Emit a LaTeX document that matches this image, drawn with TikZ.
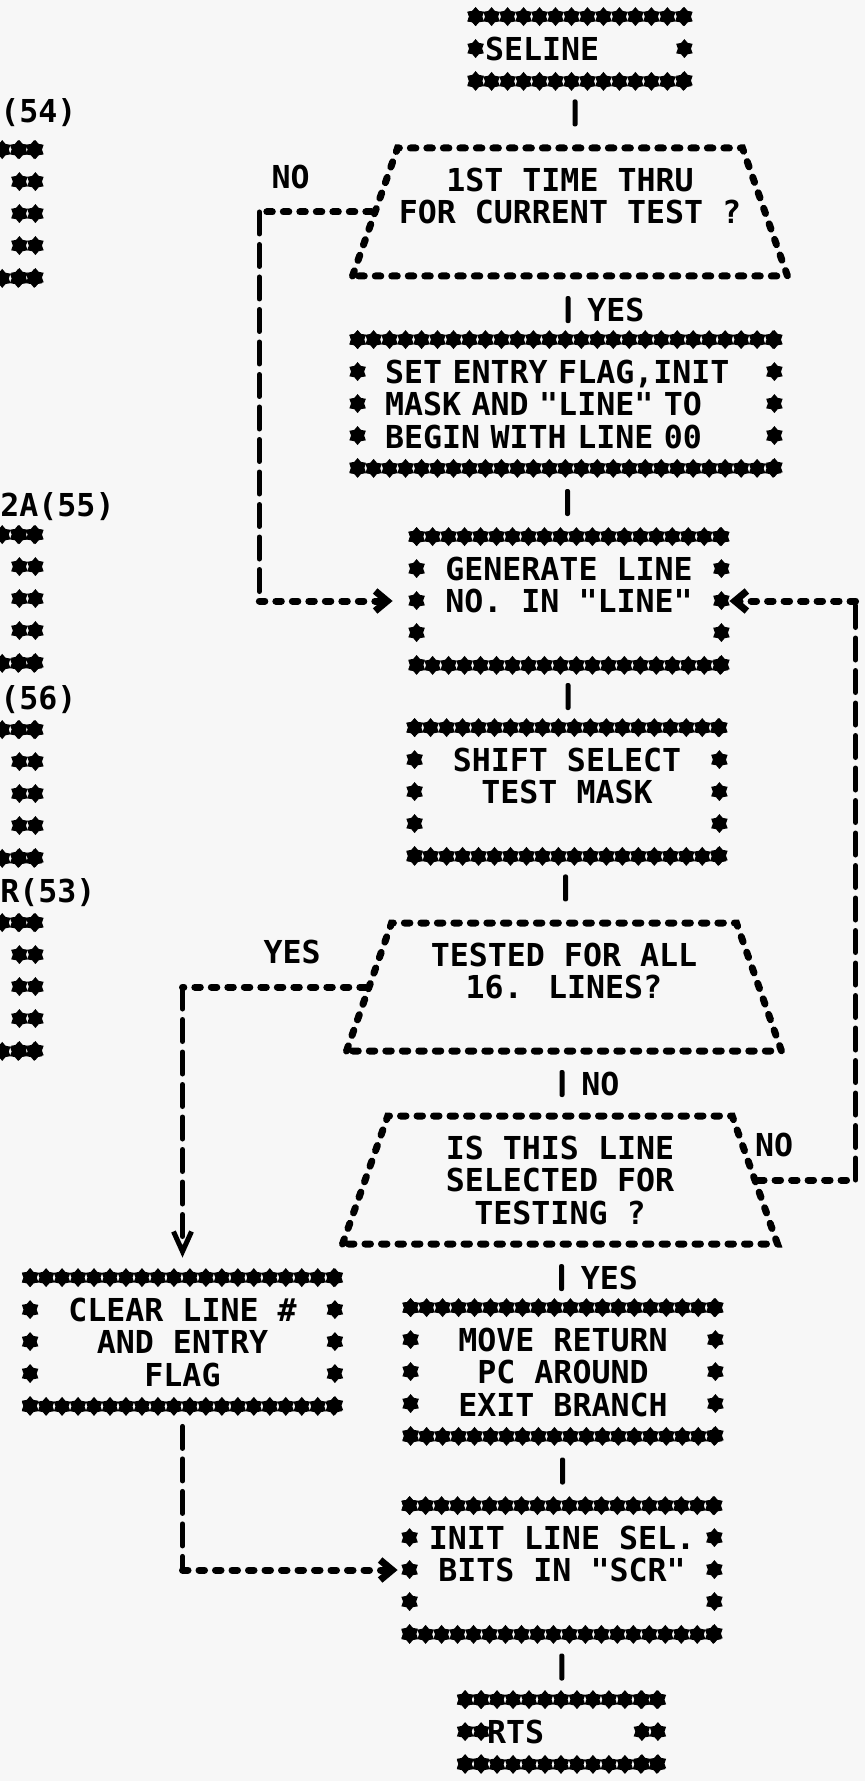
\documentclass[tikz,border=0pt]{standalone}
\usepackage{fontspec}
\setmainfont{DejaVu Sans Mono}[Ligatures=TeXOff]
\usetikzlibrary{shapes.geometric, decorations.markings, arrows.meta}

\tikzset{
  lbl/.style={font=\bfseries\fontsize{15.8}{16.25}\selectfont, inner sep=2pt},
  box/.style={lbl, inner sep=0pt, minimum width=152pt, minimum height=64pt, align=center},
  ifbox/.style={lbl, trapezium, trapezium left angle=63, trapezium right angle=63,
    trapezium stretches body, draw, dline, inner sep=0pt,
    minimum width=217.5pt, minimum height=64pt, align=center},
  starblob/.style={star, star points=6, star point ratio=1.45, fill, inner sep=0pt, minimum size=9.5pt},
  hstars/.style={decoration={markings, mark=between positions 0 and 1 step 7.99pt with {\node[starblob] {};}}, decorate},
  vstars/.style={decoration={markings, mark=between positions 0 and 1 step 15.99pt with {\node[starblob] {};}}, decorate},
  dline/.style={line width=3.5pt, line cap=round, dash pattern=on 2.75pt off 5.5pt},
  iline/.style={line width=2.5pt, line cap=round, dash pattern=on 11pt off 5.25pt},
  ibar/.style={fill, rounded corners=1pt, inner sep=0pt, minimum width=2.5pt, minimum height=13.5pt},
  tip/.style={-{Straight Barb[length=6pt, width=10pt]}},
}

% rows of asterisks round a box
\newcommand\starframe[1]{%
  \path[hstars] (#1.north west) -- (#1.north east);
  \path[hstars] (#1.south west) -- (#1.south east);
  \path[vstars] (#1.north west) -- (#1.south west);
  \path[vstars] (#1.north east) -- (#1.south east);}

\begin{document}
\begin{tikzpicture}[x=0.5pt, y=-0.5pt]
    \useasboundingbox (0,0) rectangle (865,1781);
    \fill[black!3] (0,0) rectangle (865,1781);

    % Boxes cut off at the left edge
    \node[box, minimum width=168pt] (p54) at (-133,214) {};
    \node[box, minimum width=168pt] (p55) at (-133,599) {};
    \node[box, minimum width=168pt] (p56) at (-133,794) {};
    \node[box, minimum width=168pt] (p53) at (-133,987) {};
    \node[lbl, anchor=west] (t54) at (-4,113) {(54)};
    \node[lbl, anchor=west] (t55) at (-4,507) {2A(55)};
    \node[lbl, anchor=west] (t56) at (-4,700) {(56)};
    \node[lbl, anchor=west] (t53) at (-4,893) {R(53)};

    % Main column
    \node[box, minimum width=104pt, minimum height=32pt, text width=95pt, align=left] (seline) at (580,49) {SELINE};
    \node[ifbox] (d1) at (570,212) {1ST TIME THRU\\FOR CURRENT TEST ?\\\mbox{}};
    \node[box, minimum width=208pt, text width=181pt, align=left] (init) at (566,404) {SET ENTRY FLAG,INIT\\MASK AND "LINE" TO\\BEGIN WITH LINE 00};
    \node[box] (gen) at (569,601) {GENERATE LINE\\NO. IN "LINE"\\\mbox{}};
    \node[box] (shift) at (567,792) {SHIFT SELECT\\TEST MASK\\\mbox{}};
    \node[ifbox] (d2) at (564,987) {TESTED FOR ALL\\16. LINES?\\\mbox{}};
    \node[ifbox] (d3) at (560,1180) {IS THIS LINE\\SELECTED FOR\\TESTING ?};
    \node[box] (move) at (563,1372) {MOVE RETURN\\PC AROUND\\EXIT BRANCH};
    \node[box] (bits) at (562,1570) {INIT LINE SEL.\\BITS IN "SCR"\\\mbox{}};
    \node[box, minimum width=96pt, minimum height=32pt, text width=74.5pt, align=left] (rts) at (561.5,1732) {RTS};
    \node[box] (clr) at (182.5,1342) {CLEAR LINE \#\\AND ENTRY\\FLAG};

    \foreach \b in {p54,p55,p56,p53,seline,init,gen,shift,move,bits,rts,clr}
      {\starframe{\b}}
    % double columns of asterisks
    \foreach \b in {p54,p55,p56,p53,rts}
      {\path[vstars] ([xshift=-8pt]\b.north east) -- ([xshift=-8pt]\b.south east);}
    \path[vstars] ([xshift=8pt]rts.north west) -- ([xshift=8pt]rts.south west);

    % Straight flow
    \path (seline.south) -- node[ibar] {} (d1.north);
    \path (d1.south) -- node[ibar, label={[lbl, label distance=6pt]right:YES}] {} (init.north);
    \path (init.south) -- node[ibar] {} (gen.north);
    \path (gen.south) -- node[ibar] {} (shift.north);
    \path (shift.south) -- node[ibar] {} (d2.north);
    \path (d2.south) -- node[ibar, label={[lbl, label distance=6pt]right:NO}] {} (d3.north);
    \path (d3.south) -- node[ibar, label={[lbl, label distance=6pt]right:YES}] {} (move.north);
    \path (move.south) -- node[ibar] {} (bits.north);
    \path (bits.south) -- node[ibar] {} (rts.north);

    % NO branch of first test
    \coordinate (no1) at ([xshift=-56pt]d1.west);
    \coordinate (no2) at (no1 |- gen.west);
    \draw[dline] (d1.west) -- node[lbl, above=8pt, pos=0.72] {NO} (no1);
    \draw[iline] (no1) -- (no2);
    \draw[dline, tip, shorten >=12pt] (no2) -- (gen.west);

    % YES branch of all-lines test
    \coordinate (yes1) at (clr.north |- d2.west);
    \draw[dline] (d2.west) -- node[lbl, above=8pt, pos=0.4] {YES} (yes1);
    \draw[iline, -{Straight Barb[length=10pt, width=9pt]}, shorten >=10pt] (yes1) -- (clr.north);
    \coordinate (clr2) at (clr.south |- bits.west);
    \draw[iline, shorten <=10pt] (clr.south) -- (clr2);
    \draw[dline, tip, shorten >=6pt] (clr2) -- (bits.west);

    % NO loop back to line number
    \coordinate (rc1) at ([xshift=48.5pt]d3.east);
    \coordinate (rc2) at (rc1 |- gen.east);
    \draw[dline] (d3.east) -- node[lbl, above=8pt, pos=0.16] {NO} (rc1);
    \draw[iline] (rc1) -- (rc2);
    \draw[dline, tip, shorten >=4pt] (rc2) -- (gen.east);

\end{tikzpicture}
\end{document}
